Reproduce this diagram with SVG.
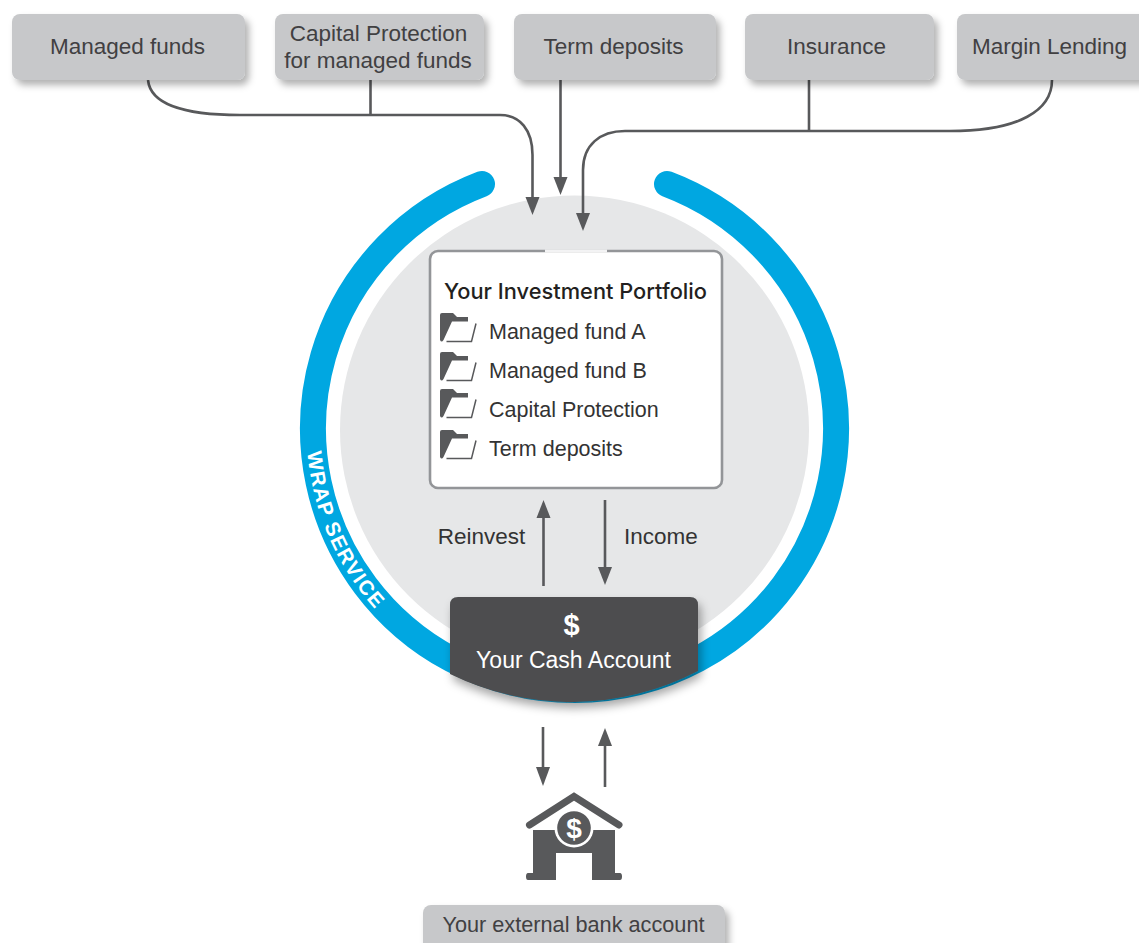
<svg xmlns="http://www.w3.org/2000/svg" xmlns:xlink="http://www.w3.org/1999/xlink" width="1139" height="943" viewBox="0 0 1139 943">
<style>
text{font-family:"Liberation Sans",Arial,sans-serif;fill:#414042}
.box{fill:#c7c8ca}
.b{font-size:22.500px;text-anchor:middle}
.i{font-size:21.500px;fill:#333}
.c{fill:none;stroke:#58595b;stroke-width:2.600}
.h{fill:#58595b}
</style>
<defs>
<filter id="sh" x="-10%" y="-20%" width="125%" height="150%"><feDropShadow dx="4" dy="5" stdDeviation="3.500" flood-color="#000" flood-opacity="0.3"/></filter>
<filter id="sh2" x="-10%" y="-10%" width="125%" height="130%"><feDropShadow dx="3" dy="6" stdDeviation="5" flood-color="#000" flood-opacity="0.35"/></filter>
<g id="folder"><path d="M0,2 Q0,0 2,0 H13 L17,4 H28 V8.500 H12 L3.500,27 Q1.500,30 0,27 Z" class="h"/><path d="M6.500,28.500 H31.500 L36,10.500" fill="none" stroke="#58595b" stroke-width="1.500"/></g>
</defs>

<g id="wrap-service">
<path d="M482,184 A261.500,261.500 0 1 0 667,184" fill="none" stroke="#00a7e1" stroke-width="26" stroke-linecap="round"/>
<path id="wp" d="M307.500,452 A268.500,268.500 0 0 0 574.500,698.500" fill="none"/>
<text font-size="20.500" font-weight="bold" style="fill:#fff" textLength="174"><textPath href="#wp" xlink:href="#wp">WRAP SERVICE</textPath></text>
</g>
<circle id="platform" cx="574.500" cy="430" r="234.500" fill="#e6e7e8"/>

<g id="connectors">
<path class="c" d="M148,80 C150,100 172,115 240,115 H500 C520,115 532.500,130 532.500,155 V205"/>
<path class="c" d="M370.500,80 V115"/>
<path class="c" d="M560.500,80 V185"/>
<path class="c" d="M1052,80 C1052,110 1020,131 950,131 H625 C600,131 583,145 583,170 V221"/>
<path class="c" d="M809,80 V131"/>
<path class="c" d="M543.500,586 V510"/>
<path class="c" d="M605,500 V575"/>
<path class="c" d="M543,727 V775"/>
<path class="c" d="M605,787 V738"/>
<path class="h" d="M525.500,197 H539.500 L532.500,215 Z"/>
<path class="h" d="M553.500,177 H567.500 L560.500,195 Z"/>
<path class="h" d="M576,213 H590 L583,231 Z"/>
<path class="h" d="M536.500,518 H550.500 L543.500,500 Z"/>
<path class="h" d="M598,567 H612 L605,585 Z"/>
<path class="h" d="M536,767 H550 L543,786 Z"/>
<path class="h" d="M598,746 H612 L605,728 Z"/>
</g>

<g id="managed-funds"><rect class="box" x="12" y="14" width="233" height="66" rx="8" filter="url(#sh)"/><text class="b" x="127.500" y="54">Managed funds</text></g>
<g id="capital-protection"><rect class="box" x="275" y="14" width="209" height="66" rx="8" filter="url(#sh)"/><text class="b" x="378.500" y="41">Capital Protection</text><text class="b" x="378" y="68">for managed funds</text></g>
<g id="term-deposits"><rect class="box" x="514" y="14" width="202" height="66" rx="8" filter="url(#sh)"/><text class="b" x="613.500" y="54">Term deposits</text></g>
<g id="insurance"><rect class="box" x="745" y="14" width="189" height="66" rx="8" filter="url(#sh)"/><text class="b" x="836.500" y="54">Insurance</text></g>
<g id="margin-lending"><rect class="box" x="957" y="14" width="200" height="66" rx="8" filter="url(#sh)"/><text class="b" x="1049.500" y="54">Margin Lending</text></g>

<g id="portfolio">
<rect x="430" y="251" width="292" height="237" rx="8" fill="#fff" stroke="#939598" stroke-width="2.600"/>
<rect x="545" y="249.500" width="62" height="3" fill="#f3f3f4"/>
<text x="444" y="299" font-size="21.500" style='font-family:Inter,"Liberation Sans",sans-serif;font-weight:500;fill:#231f20' textLength="263" lengthAdjust="spacingAndGlyphs">Your Investment Portfolio</text>
<use href="#folder" xlink:href="#folder" x="440" y="313"/><text class="i" x="489" y="339">Managed fund A</text>
<use href="#folder" xlink:href="#folder" x="440" y="352"/><text class="i" x="489" y="378">Managed fund B</text>
<use href="#folder" xlink:href="#folder" x="440" y="389"/><text class="i" x="489" y="417">Capital Protection</text>
<use href="#folder" xlink:href="#folder" x="440" y="430"/><text class="i" x="489" y="456">Term deposits</text>
</g>

<text x="481.500" y="544" text-anchor="middle" font-size="22.500" style="fill:#333">Reinvest</text>
<text x="661" y="544" text-anchor="middle" font-size="22.500" style="fill:#333">Income</text>

<g id="cash-account">
<path d="M458,597 H690 Q698,597 698,605 V671 A274.500,274.500 0 0 1 450,674 V605 Q450,597 458,597 Z" fill="#4d4e50" filter="url(#sh2)"/>
<text x="571.500" y="635" font-size="29" font-weight="bold" text-anchor="middle" style="fill:#fff">$</text>
<text x="573.500" y="668" font-size="23" text-anchor="middle" style="fill:#fff">Your Cash Account</text>
</g>

<g id="bank">
<path d="M529.500,825 L574,796.500 L619,825" fill="none" stroke="#58595b" stroke-width="7" stroke-linecap="round"/>
<path d="M533,830 H615 V873 H620 Q622,873 622,876.500 Q622,880 620,880 H592 V853 H556 V880 H528 Q526,880 526,876.500 Q526,873 528,873 H533 Z" class="h"/>
<circle cx="574" cy="828" r="19.500" fill="#fff"/>
<circle cx="574" cy="828" r="16.800" class="h"/>
<text x="574" y="838" font-size="28" font-weight="bold" text-anchor="middle" style="fill:#fff">$</text>
</g>

<g id="external-bank"><rect class="box" x="423" y="905" width="302" height="50" rx="8" filter="url(#sh)"/><text x="573.500" y="932" text-anchor="middle" font-size="21.700">Your external bank account</text></g>
</svg>
